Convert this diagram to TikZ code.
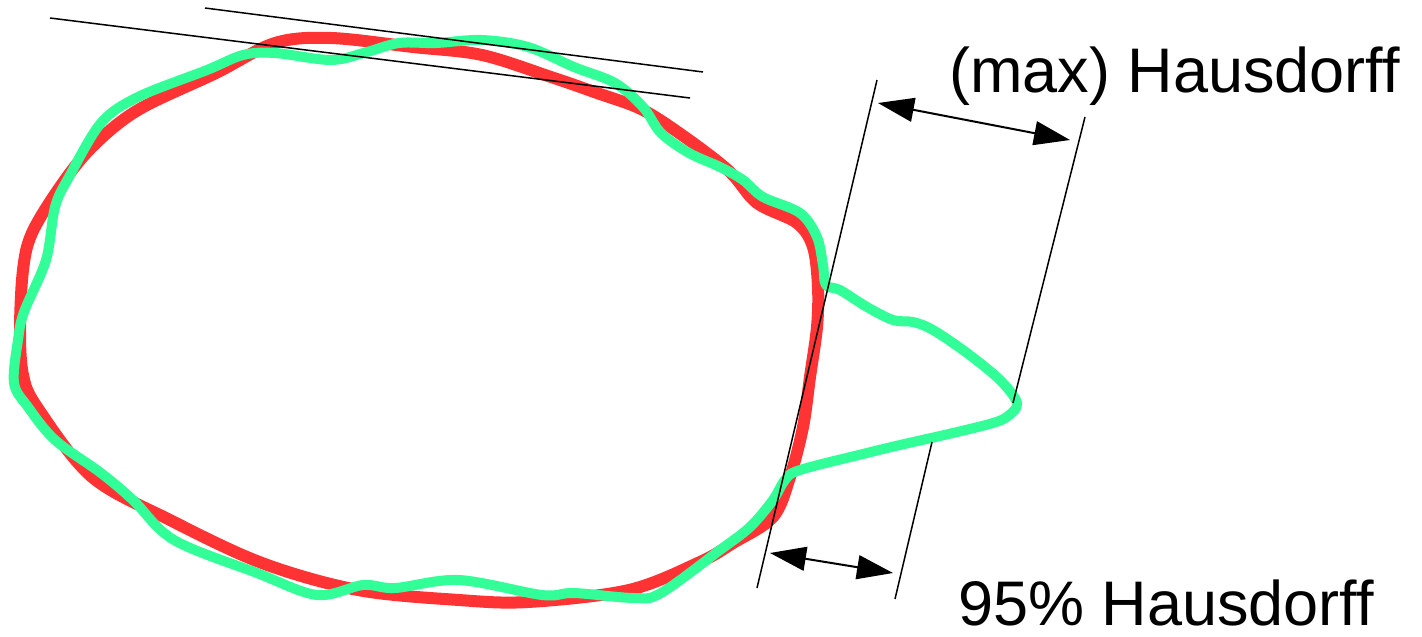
\documentclass[tikz,border=0pt]{standalone}
\usepackage{fontspec}
\setmainfont{Liberation Sans}
\usepackage{tikz}
\usetikzlibrary{arrows.meta}
\definecolor{refRed}{RGB}{255,51,51}
\definecolor{segGreen}{RGB}{51,255,153}
\tikzset{
  contour/.style={line width=#1, line join=round},
  thinline/.style={line width=1.5pt, draw=black},
  dimArrow/.style={{Triangle[length=36pt,width=24pt]}-{Triangle[length=36pt,width=24pt]},
    line width=2pt, draw=black},
  dimlabel/.style={anchor=base west, inner sep=0pt, text depth=0pt,
    font=\fontsize{63}{70}\selectfont}
}

\begin{document}
\begin{tikzpicture}[x=1pt, y=-1pt]
  \useasboundingbox (0,0) rectangle (1422,637);
  % reference contour
  \draw[contour=12pt, draw=refRed] plot[smooth cycle, tension=0.55] coordinates {
    (20,330) (23,270) (32,233) (60,187) (92,147) (138,110) (216,73) (275,43)
    (331,38) (413,47) (482,55) (551,77) (597,93) (643,110) (689,140) (730,172)
    (757,203) (797,223) (813,247) (818,287) (817,327) (810,377) (803,427)
    (790,477) (773,517) (733,543) (700,562) (629,590) (528,602) (459,600)
    (358,590) (262,563) (170,520) (92,477) (37,407) (23,375)};
  % segmentation contour
  \draw[contour=10pt, draw=segGreen] plot[smooth cycle, tension=0.55] coordinates {
    (14,383) (18,340) (24,312) (46,260) (55,207) (69,177) (101,123) (138,97)
    (207,70) (243,55) (275,53) (331,60) (367,52) (399,43) (436,43) (482,40)
    (528,47) (574,67) (615,83) (643,107) (661,133) (689,153) (720,167)
    (743,180) (763,197) (800,213) (817,237) (823,265) (826,285) (840,290)
    (867,307) (893,320) (913,322) (933,330) (967,353) (1000,380) (1017,403)
    (1008,416) (993,423) (953,433) (900,445) (867,453) (800,470) (785,480)
    (773,500) (750,527) (720,550) (661,593) (634,598) (574,593) (542,595)
    (459,580) (395,588) (363,585) (317,595) (257,573) (174,540) (133,500)
    (101,473) (55,440) (28,407)};
  % helper lines
  \coordinate (topA) at (205,8);
  \coordinate (topB) at (703,72);
  \coordinate (midA) at (50,18);
  \coordinate (midB) at (690,98);
  \coordinate (innerTop) at (877,80);
  \coordinate (innerBot) at (757,588);
  \coordinate (maxTop) at (1085,117);
  \coordinate (maxBot) at (1013,403);
  \coordinate (pctTop) at (932,442);
  \coordinate (pctBot) at (895,599);
  \draw[thinline] (topA) -- (topB);
  \draw[thinline] (midA) -- (midB);
  \draw[thinline] (innerTop) -- (innerBot);
  \draw[thinline] (maxTop) -- (maxBot);
  \draw[thinline] (pctTop) -- (pctBot);
  % distances
  \coordinate (maxL) at (878,103);
  \coordinate (maxR) at (1070,140);
  \coordinate (pctL) at (770,553);
  \coordinate (pctR) at (893,573);
  \draw[dimArrow] (maxL) -- (maxR);
  \draw[dimArrow] (pctL) -- (pctR);
  \node[dimlabel] (maxlabel) at (949,92) {(max) Hausdorff};
  \node[dimlabel] (pctlabel) at (958,625) {95\% Hausdorff};
\end{tikzpicture}
\end{document}
